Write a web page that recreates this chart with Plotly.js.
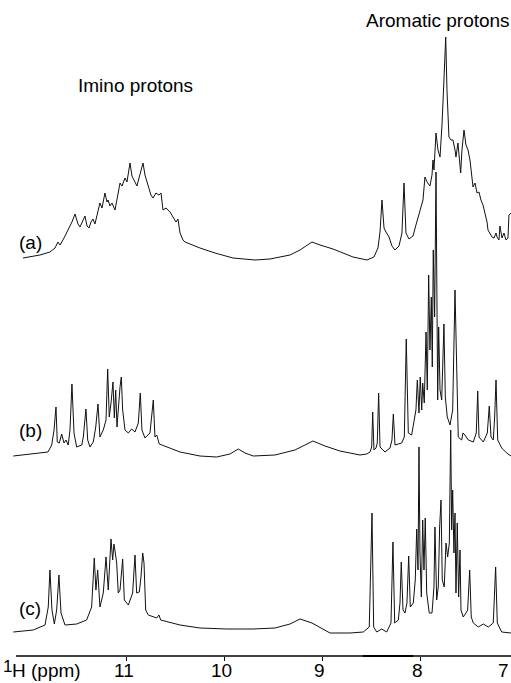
<!DOCTYPE html>
<html>
<head>
<meta charset="utf-8">
<script src="https://cdn.plot.ly/plotly-3.0.1.min.js"></script>
<style>html,body{margin:0;padding:0;background:#fff;}#chart{width:511px;height:683px;}</style>
</head>
<body>
<div id="chart"></div>
<script>
// Spectrum (a)
const specA_ppm = [12.059,11.886,11.784,11.732,11.702,11.681,11.640,11.600,11.559,11.528,
11.497,11.477,11.446,11.426,11.405,11.385,11.364,11.344,11.324,11.303,
11.273,11.252,11.232,11.222,11.201,11.191,11.170,11.150,11.119,11.099,
11.068,11.048,11.017,10.997,10.966,10.946,10.925,10.895,10.874,10.854,
10.833,10.813,10.782,10.752,10.731,10.701,10.670,10.649,10.629,10.598,
10.557,10.527,10.496,10.476,10.455,10.425,10.404,10.353,10.251,10.098,
9.914,9.689,9.536,9.332,9.229,9.107,9.025,8.892,8.688,8.545,
8.474,8.433,8.412,8.392,8.371,8.351,8.320,8.290,8.259,8.218,
8.188,8.167,8.147,8.116,8.075,8.045,8.024,7.994,7.973,7.953,
7.932,7.902,7.881,7.871,7.861,7.840,7.820,7.799,7.779,7.759,
7.741,7.728,7.718,7.708,7.687,7.667,7.646,7.636,7.616,7.588,
7.575,7.554,7.534,7.513,7.493,7.473,7.462,7.442,7.421,7.401,
7.381,7.360,7.340,7.319,7.309,7.289,7.268,7.248,7.227,7.217,
7.197,7.187,7.166,7.146,7.125,7.105,7.095,7.074];
const specA_int = [4,7,10,14,20,17,24,32,40,48,
38,35,42,46,36,34,40,43,38,47,
59,54,66,69,60,62,56,59,52,62,
79,76,84,80,99,86,82,76,84,92,
99,87,77,67,64,69,67,69,52,54,
50,45,40,43,29,22,20,18,14,9,
4,2,3,7,12,20,17,13,5,2,
5,14,30,62,34,30,25,16,12,16,
29,79,29,23,26,37,45,55,62,85,
80,76,87,102,92,129,112,105,137,182,
225,172,137,125,122,122,112,105,119,89,
112,132,117,112,102,87,75,79,69,70,
62,57,49,40,32,28,25,24,29,25,
22,36,24,29,22,24,47,49];

// Spectrum (b)
const specB_ppm = [12.158,11.957,11.804,11.766,11.742,11.722,11.709,11.688,11.664,11.640,
11.620,11.597,11.579,11.559,11.538,11.511,11.459,11.443,11.416,11.398,
11.375,11.341,11.316,11.293,11.273,11.239,11.211,11.194,11.178,11.160,
11.140,11.126,11.112,11.099,11.082,11.068,11.055,11.041,11.017,10.983,
10.949,10.915,10.881,10.861,10.844,10.813,10.762,10.744,10.728,10.711,
10.693,10.667,10.591,10.455,10.251,10.080,9.945,9.860,9.791,9.707,
9.485,9.281,9.097,8.974,8.821,8.617,8.548,8.514,8.497,8.487,
8.474,8.453,8.440,8.426,8.412,8.361,8.310,8.290,8.276,8.259,
8.191,8.164,8.144,8.123,8.089,8.062,8.045,8.031,8.014,8.001,
7.986,7.976,7.960,7.942,7.929,7.915,7.902,7.888,7.878,7.868,
7.854,7.840,7.830,7.823,7.813,7.799,7.782,7.772,7.759,7.745,
7.725,7.697,7.670,7.646,7.629,7.613,7.578,7.565,7.544,7.510,
7.459,7.429,7.414,7.401,7.357,7.316,7.296,7.278,7.255,7.241,
7.227,7.210,7.169,7.118,7.074];
const specB_int = [2,4,6,13,28,51,16,15,24,15,
18,13,28,74,25,11,13,21,49,18,
11,16,31,54,21,28,38,89,41,55,
76,40,68,31,58,71,81,48,28,25,
29,26,35,65,28,20,25,41,58,21,
23,14,11,6,2,1,4,9,5,2,
3,8,17,12,7,3,4,6,11,46,
8,10,15,65,11,6,10,18,44,13,
15,21,119,25,23,38,48,78,45,81,
48,75,55,126,68,183,108,161,91,208,
141,286,108,58,131,68,58,101,134,61,
41,33,48,168,75,21,18,25,23,18,
16,25,67,21,16,25,52,21,18,41,
78,18,10,5,2];

// Spectrum (c)
const specC_ppm = [12.158,11.954,11.834,11.801,11.784,11.763,11.739,11.715,11.692,11.671,
11.630,11.511,11.409,11.358,11.331,11.314,11.296,11.273,11.239,11.211,
11.188,11.160,11.143,11.130,11.116,11.102,11.086,11.068,11.041,11.024,
10.983,10.939,10.915,10.898,10.871,10.854,10.836,10.823,10.806,10.779,
10.693,10.670,10.653,10.455,10.251,9.978,9.710,9.485,9.332,9.229,
9.107,8.923,8.719,8.583,8.522,8.494,8.477,8.446,8.395,8.344,
8.300,8.280,8.262,8.225,8.208,8.195,8.177,8.157,8.137,8.119,
8.103,8.072,8.052,8.037,8.024,8.014,8.004,7.990,7.976,7.963,
7.950,7.935,7.909,7.881,7.861,7.851,7.833,7.817,7.803,7.789,
7.776,7.756,7.738,7.721,7.704,7.690,7.680,7.670,7.657,7.646,
7.636,7.623,7.609,7.595,7.585,7.562,7.534,7.517,7.496,7.480,
7.459,7.408,7.357,7.306,7.255,7.231,7.214,7.169,7.074];
const specC_int = [4,6,11,29,66,26,12,26,61,23,
11,12,16,29,78,46,66,29,43,79,
46,97,76,92,83,73,43,46,77,36,
31,43,81,43,44,59,83,73,26,21,
18,21,16,11,8,7,7,8,12,17,
13,3,3,4,9,123,9,4,7,4,
13,94,13,16,33,74,26,23,33,80,
29,33,56,107,66,189,83,39,116,66,
118,43,23,23,49,109,36,49,109,136,
56,49,93,79,93,206,106,146,83,123,
43,113,39,86,26,19,23,26,66,19,
13,9,12,9,13,69,13,4,3];

const tickVals = [11, 10, 9, 8, 7];
const tickText = ['11', '10', '9', '8', '7'];
const spectrumLabels = ['(a)', '(b)', '(c)'];
const regionLabels = ['Imino protons', 'Aromatic protons'];
const axisLabelSup = '1';
const axisLabelMain = 'H (ppm)';

// stacking offsets (layout only)
const OFF = [394, 198, 20];
const FONT = 'Liberation Sans, Arial, Helvetica, sans-serif';
const lineStyle = {color: '#111', width: 1};

const traces = [
  {x: specA_ppm, y: specA_int.map(v => v + OFF[0]), mode: 'lines', line: lineStyle, hoverinfo: 'skip'},
  {x: specB_ppm, y: specB_int.map(v => v + OFF[1]), mode: 'lines', line: lineStyle, hoverinfo: 'skip'},
  {x: specC_ppm, y: specC_int.map(v => v + OFF[2]), mode: 'lines', line: lineStyle, hoverinfo: 'skip'}
];

const H = 656;
function py(p) { return 1 - p / H; }

const annFont = {family: FONT, size: 19, color: '#000'};
const tickFont = {family: FONT, size: 19, color: '#000'};

// tick labels; the last one (7) sits at the clipped right edge, so it is anchored in paper space
const tickAnns = tickVals.map((v, i) => {
  const last = i === tickVals.length - 1;
  return {
    text: tickText[i], xref: last ? 'paper' : 'x', yref: 'paper',
    x: last ? 1 : v, y: py(683),
    xanchor: last ? 'right' : 'center', yanchor: 'bottom', xshift: last ? 0 : -3,
    showarrow: false, font: tickFont
  };
});

const layout = {
  width: 511, height: 683,
  margin: {l: 0, r: 0, t: 0, b: 27, pad: 0},
  paper_bgcolor: '#fff', plot_bgcolor: '#fff',
  showlegend: false,
  font: {family: FONT, color: '#000'},
  xaxis: {
    range: [12.294, 7.074],
    showgrid: false, zeroline: false, showline: false,
    ticks: 'outside', ticklen: 4, tickwidth: 1.5, tickcolor: '#000',
    tickvals: tickVals, showticklabels: false,
    fixedrange: true
  },
  yaxis: {range: [0, H], visible: false, fixedrange: true},
  shapes: [
    {type: 'line', xref: 'x', yref: 'paper', x0: 12.131, x1: 7.074, y0: 0, y1: 0, line: {color: '#000', width: 1.5}},
    {type: 'line', xref: 'x', yref: 'paper', x0: 8.586, x1: 8.075, y0: 0, y1: 0, line: {color: '#000', width: 2.2}}
  ],
  annotations: [
    {text: regionLabels[0], xref: 'paper', yref: 'paper', x: 135/511, y: py(85), xanchor: 'center', yanchor: 'middle', showarrow: false, font: annFont},
    {text: regionLabels[1], xref: 'paper', yref: 'paper', x: 364/511, y: py(20), xanchor: 'left', yanchor: 'middle', showarrow: false, font: annFont},
    {text: spectrumLabels[0], xref: 'paper', yref: 'paper', x: 17/511, y: py(242), xanchor: 'left', yanchor: 'middle', showarrow: false, font: annFont},
    {text: spectrumLabels[1], xref: 'paper', yref: 'paper', x: 17/511, y: py(430), xanchor: 'left', yanchor: 'middle', showarrow: false, font: annFont},
    {text: spectrumLabels[2], xref: 'paper', yref: 'paper', x: 17/511, y: py(608), xanchor: 'left', yanchor: 'middle', showarrow: false, font: annFont},
    {text: axisLabelSup, xref: 'paper', yref: 'paper', x: 1/511, y: py(678), xanchor: 'left', yanchor: 'bottom', showarrow: false, font: {family: FONT, size: 17, color: '#000'}},
    {text: axisLabelMain, xref: 'paper', yref: 'paper', x: 10/511, y: py(683), xanchor: 'left', yanchor: 'bottom', showarrow: false, font: tickFont}
  ].concat(tickAnns)
};

Plotly.newPlot('chart', traces, layout, {staticPlot: true, displayModeBar: false});
</script>
</body>
</html>
